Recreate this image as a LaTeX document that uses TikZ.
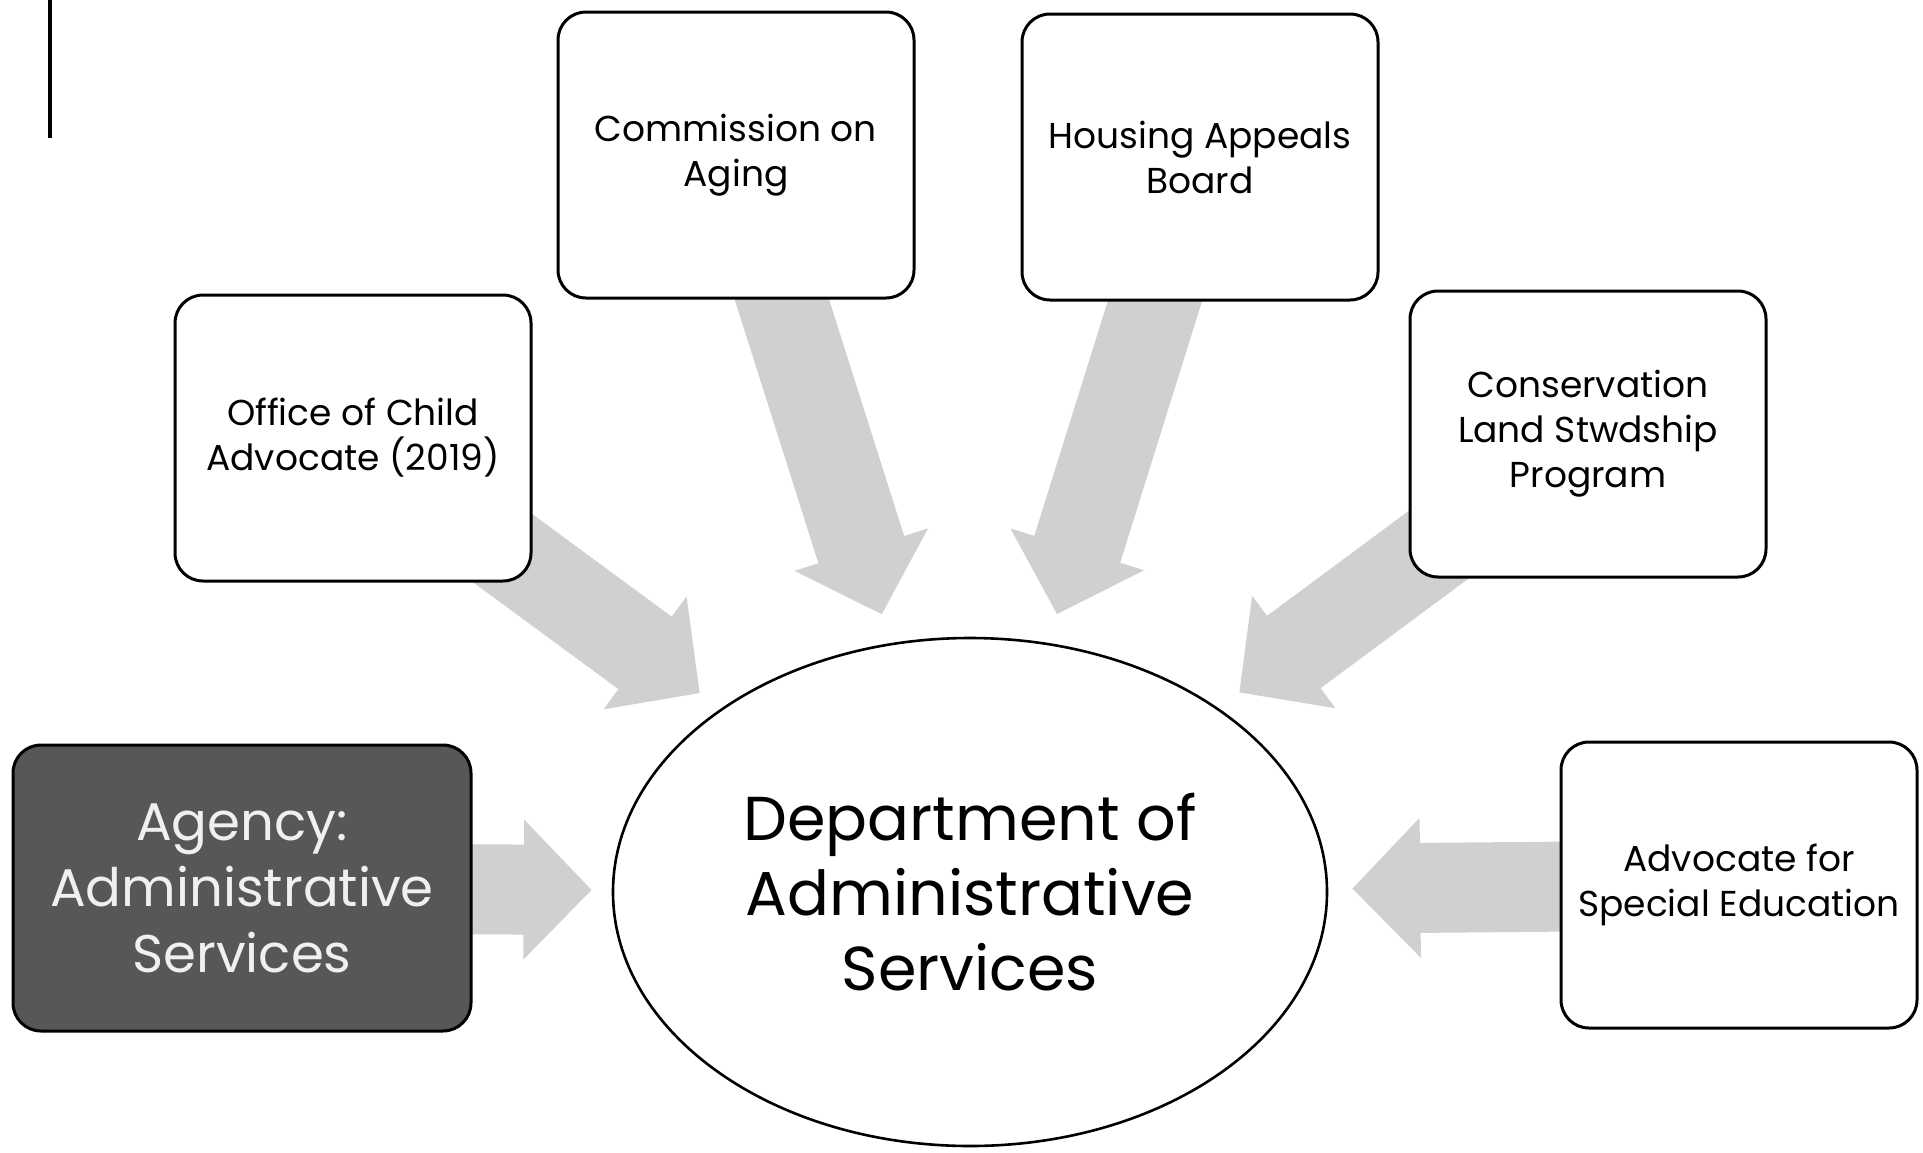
\documentclass[tikz,border=0pt]{standalone}
\usepackage{fontspec}
\setmainfont{Poppins}
\usetikzlibrary{shapes.geometric,arrows.meta,backgrounds}
\definecolor{arrowgray}{HTML}{D0D0D0}
\definecolor{agencyfill}{HTML}{575757}

\begin{document}
\begin{tikzpicture}[x=0.5pt, y=-0.5pt,
    unit/.style ={draw, line width=1.5pt, rounded corners=14pt, fill=white,
      minimum width=178pt, minimum height=143pt, align=center,
      font=\fontsize{18}{22.5}\selectfont},
    agency/.style ={unit, fill=agencyfill, text=white!94!black,
      minimum width=229pt, font=\fontsize{26.5}{33}\selectfont},
    hub/.style ={ellipse, draw, line width=1.3pt, fill=white, inner sep=0pt,
      minimum width=357pt, minimum height=254pt, align=center,
      font=\fontsize{31}{37.5}\selectfont},
    feed/.style ={line width=45pt, draw=arrowgray,
      -{Triangle[width=68pt, length=34pt]}}]
   \useasboundingbox (0,0) rectangle (1923,1152);
   \draw[line width=2pt] (50,0) -- (50,138);

   \node[hub] (dept) at (970,892) {Department of\\Administrative\\Services};
   \node[agency] (agency) at (242,888) {Agency:\\Administrative\\Services};
   \node[unit] (child) at (353,438) {Office of Child\\Advocate (2019)};
   \node[unit] (aging) at (736,155) {Commission on\\Aging};
   \node[unit] (housing) at (1200,157) {Housing Appeals\\Board};
   \node[unit] (land) at (1588,434) {Conservation\\Land Stwdship\\Program};
   \node[unit] (sped) at (1739,885) {Advocate for\\Special Education};

   \begin{scope}[on background layer]
   \draw[feed, shorten >=10pt] (agency.center) to (dept);
   \draw[feed, shorten >=13pt] (child.center) to (dept);
   \draw[feed, shorten >=15pt] (aging.center) to (dept);
   \draw[feed, shorten >=15pt] (housing.center) to (dept);
   \draw[feed, shorten >=13pt] (land.center) to (dept);
   \draw[feed, shorten >=12pt] (sped.center) to (dept);
   \end{scope}
 \end{tikzpicture}
\end{document}
